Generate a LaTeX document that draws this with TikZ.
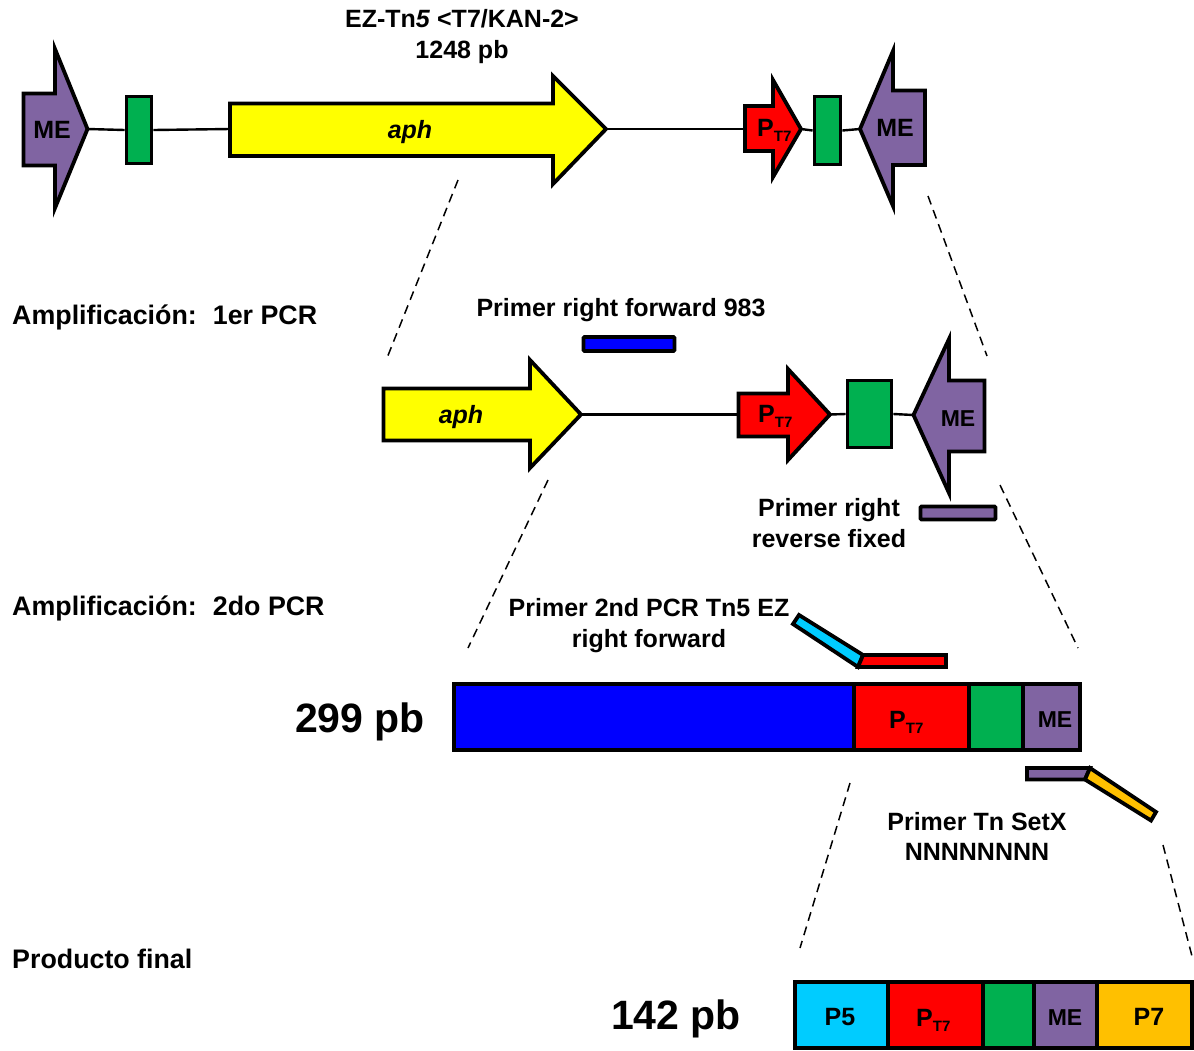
\documentclass[tikz,border=0pt]{standalone}
\usepackage{fontspec}
\setmainfont{Liberation Sans}
\definecolor{mepurple}{HTML}{8064A2}
\definecolor{megreen}{HTML}{00B050}
\definecolor{pyellow}{HTML}{FFFF00}
\definecolor{pred}{HTML}{FF0000}
\definecolor{pblue}{HTML}{0000FF}
\definecolor{pcyan}{HTML}{00CCFF}
\definecolor{porange}{HTML}{FFC000}
\newcommand{\ptseven}[1]{P\raisebox{-5pt}{\fontsize{#1}{#1}\selectfont T7}}
\begin{document}
\begin{tikzpicture}[x=1pt,y=-1pt,
  box/.style={draw=black, line width=3.8pt, line join=miter},
  rbox/.style={box, rectangle, inner sep=0pt},
  conn/.style={draw=black, line width=2.4pt},
  zoomline/.style={draw=black, line width=1.5pt, dash pattern=on 9pt off 6pt},
  lbl/.style={font=\fontsize{25}{29}\selectfont\bfseries, inner sep=0pt},
  head/.style={font=\fontsize{26.8}{30}\selectfont\bfseries, inner sep=0pt},
  slbl/.style={font=\fontsize{23}{27}\selectfont\bfseries, inner sep=0pt},
  big/.style={font=\fontsize{41}{47}\selectfont\bfseries, inner sep=0pt}
]
\path[use as bounding box, clip] (0,0) rectangle (1194,1050);

% ---------- top row ----------
\coordinate (me1tip) at (87.5,129);
\coordinate (aph1tail) at (230,129);
\coordinate (aph1tip) at (606,129);
\coordinate (pt1tail) at (745,129);
\coordinate (pt1tip) at (801,129);
\coordinate (me2tip) at (860,129);
\node[rbox, fill=megreen, minimum width=25pt, minimum height=67pt] (g1) at (139,130) {};
\node[rbox, fill=megreen, minimum width=26pt, minimum height=68pt] (g2) at (827.5,130.5) {};
\draw[conn] (me1tip) -- (g1.west);
\draw[conn] (g1.east) -- (aph1tail);
\draw[conn] (aph1tip) -- (pt1tail);
\draw[conn] (pt1tip) -- (g2.west);
\draw[conn] (g2.east) -- (me2tip);

\draw[box, fill=mepurple] (23.5,93.5) -- (55,93.5) -- (55,49) -- (me1tip) -- (55,208) -- (55,165.5) -- (23.5,165.5) -- cycle;
\node[lbl] (me1) at (52,130) {ME};
\draw[box, fill=pyellow] (aph1tail) -- (230,103.5) -- (553,103.5) -- (553,76) -- (aph1tip) -- (553,184) -- (553,156) -- (230,156) -- cycle;
\node[lbl, anchor=base] (aph1) at (410,138) {\itshape aph};
\draw[box, fill=pred] (pt1tail) -- (745,106) -- (773,106) -- (773,80) -- (pt1tip) -- (773,177) -- (773,151) -- (745,151) -- cycle;
\node[lbl, anchor=base west] (pt1) at (757,136) {\ptseven{15}};
\draw[box, fill=mepurple] (925,90.5) -- (893,90.5) -- (893,51) -- (me2tip) -- (893,206) -- (893,165) -- (925,165) -- cycle;
\node[lbl] (me2) at (895,128) {ME};

\node[lbl, anchor=base] (title1) at (462,27) {EZ-Tn\textit{5} <T7/KAN-2>};
\node[lbl, anchor=base] (title2) at (462,58) {1248 pb};

% zoom lines top -> middle
\coordinate (z1a) at (458,180); \coordinate (z1b) at (387,358);
\coordinate (z2a) at (928,196); \coordinate (z2b) at (987,356);
\draw[zoomline] (z1a) -- (z1b);
\draw[zoomline] (z2a) -- (z2b);

\node[head, anchor=base west] (h1) at (12,324) {Amplificación:\hspace{0.6em}1er PCR};

% ---------- middle row ----------
\node[lbl, anchor=base] (prf) at (621,316) {Primer right forward 983};
\node[rbox, fill=pblue, rounded corners=1pt, minimum width=91pt, minimum height=14pt] (bprim) at (629,344) {};

\coordinate (aph2tip) at (581,414.5);
\coordinate (pt2tail) at (738.5,414.5);
\coordinate (pt2tip) at (830,414.5);
\coordinate (me3tip) at (913.5,415);
\node[rbox, fill=megreen, minimum width=44pt, minimum height=67pt] (g3) at (869.5,414) {};
\draw[conn] (aph2tip) -- (pt2tail);
\draw[conn] (pt2tip) -- (g3.west);
\draw[conn] (g3.east) -- (me3tip);

\draw[box, fill=pyellow] (383.5,388.5) -- (530,388.5) -- (530,360) -- (aph2tip) -- (530,468) -- (530,440.5) -- (383.5,440.5) -- cycle;
\node[lbl, anchor=base] (aph2) at (461,423) {\itshape aph};
\draw[box, fill=pred] (pt2tail) -- (738.5,393.5) -- (788,393.5) -- (788,369) -- (pt2tip) -- (788,460) -- (788,436.5) -- (738.5,436.5) -- cycle;
\node[lbl, anchor=base west] (pt2) at (758,422) {\ptseven{15}};
\draw[box, fill=mepurple] (984.5,380.5) -- (949,380.5) -- (949,339) -- (me3tip) -- (949,493) -- (949,451.5) -- (984.5,451.5) -- cycle;
\node[slbl] (me3) at (958,419) {ME};

\node[rbox, fill=mepurple, rounded corners=1pt, minimum width=75pt, minimum height=13pt] (pprim) at (958,513) {};
\node[lbl, anchor=base] (prr1) at (829,516) {Primer right};
\node[lbl, anchor=base] (prr2) at (829,547) {reverse fixed};

% zoom lines middle -> bar
\coordinate (z3a) at (548,480); \coordinate (z3b) at (468,648);
\coordinate (z4a) at (1000,485); \coordinate (z4b) at (1078,648);
\draw[zoomline] (z3a) -- (z3b);
\draw[zoomline] (z4a) -- (z4b);

\node[head, anchor=base west] (h2) at (12,615) {Amplificación:\hspace{0.6em}2do PCR};

% ---------- 299 pb bar ----------
\node[lbl, anchor=base] (p2a) at (649,616) {Primer 2nd PCR Tn5 EZ};
\node[lbl, anchor=base] (p2b) at (649,647) {right forward};
\draw[box, fill=pcyan] (799,615) -- (863,655) -- (858,667) -- (793,624) -- cycle;
\draw[box, fill=pred] (863,655) -- (946,655) -- (946,667) -- (858,667) -- cycle;

\node[big, anchor=base] (s299) at (360,732) {299 pb};
\node[rbox, fill=pblue, minimum width=400pt, minimum height=66pt] (b1) at (654,717) {};
\node[rbox, fill=pred, minimum width=115pt, minimum height=66pt] (b2) at (911.5,717) {};
\node[rbox, fill=megreen, minimum width=54pt, minimum height=66pt] (b3) at (996,717) {};
\node[rbox, fill=mepurple, minimum width=57pt, minimum height=66pt] (b4) at (1051.5,717) {};
\node[lbl, anchor=base west] (b2l) at (889,728) {\ptseven{15}};
\node[slbl] (b4l) at (1055,720) {ME};

\draw[box, fill=mepurple] (1027,768) -- (1090,768) -- (1085,779.5) -- (1027,779.5) -- cycle;
\draw[box, fill=porange] (1090,768) -- (1156,812) -- (1151,820.5) -- (1085,779.5) -- cycle;
\node[lbl, anchor=base] (ps1) at (977,830) {Primer Tn SetX};
\node[lbl, anchor=base] (ps2) at (977,860) {NNNNNNNN};

% zoom lines bar -> final
\coordinate (z5a) at (850,783); \coordinate (z5b) at (800,948);
\coordinate (z6a) at (1163,845); \coordinate (z6b) at (1193,960);
\draw[zoomline] (z5a) -- (z5b);
\draw[zoomline] (z6a) -- (z6b);

\node[head, anchor=base west] (h3) at (12,968) {Producto final};

% ---------- final product ----------
\node[big, anchor=base] (s142) at (676,1029) {142 pb};
\node[rbox, fill=pcyan, minimum width=93pt, minimum height=66pt] (f1) at (841.5,1015) {};
\node[rbox, fill=pred, minimum width=95pt, minimum height=66pt] (f2) at (935.5,1015) {};
\node[rbox, fill=megreen, minimum width=51pt, minimum height=66pt] (f3) at (1008.5,1015) {};
\node[rbox, fill=mepurple, minimum width=63pt, minimum height=66pt] (f4) at (1065.5,1015) {};
\node[rbox, fill=porange, minimum width=95pt, minimum height=66pt] (f5) at (1144.5,1015) {};
\node[lbl] (f1l) at (840,1017) {P5};
\node[lbl, anchor=base west] (f2l) at (916,1026) {\ptseven{15}};
\node[slbl] (f4l) at (1065,1018) {ME};
\node[lbl] (f5l) at (1149,1017) {P7};
\end{tikzpicture}
\end{document}
